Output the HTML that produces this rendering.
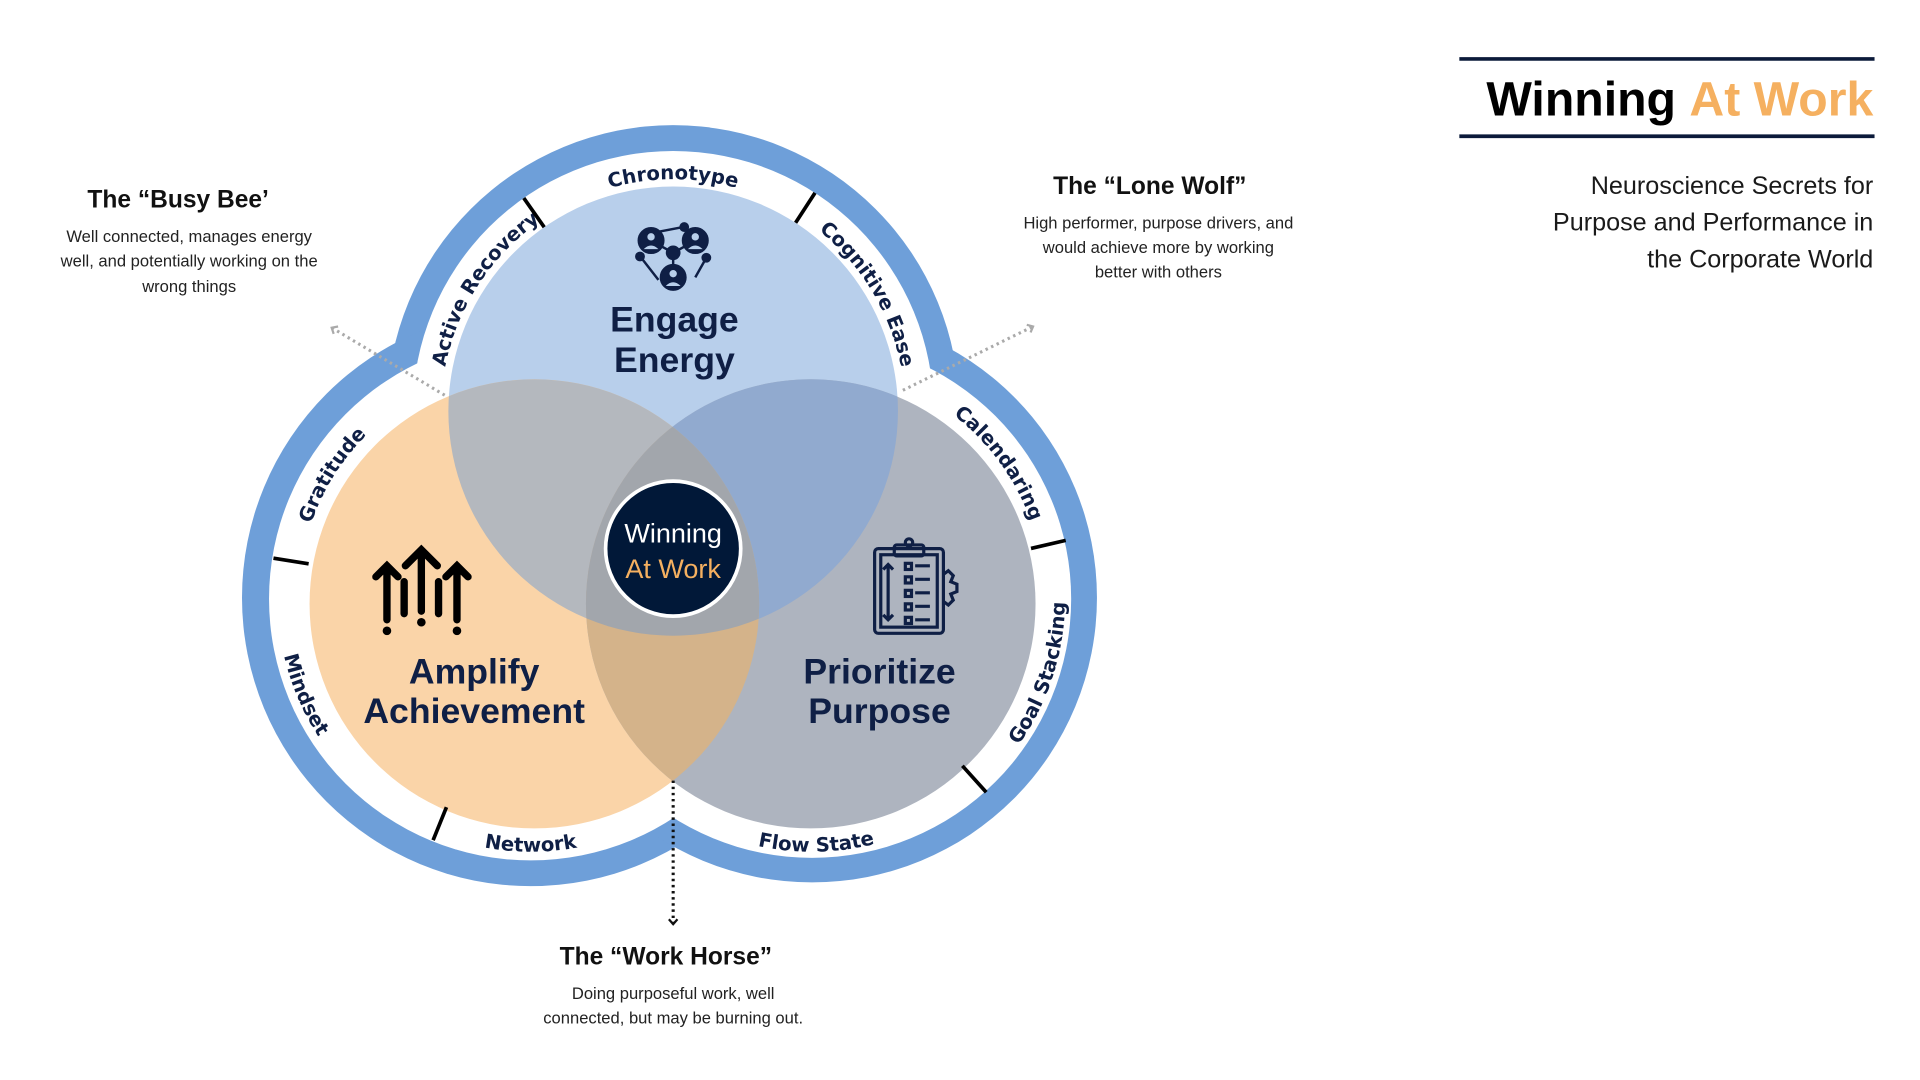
<!DOCTYPE html>
<html><head><meta charset="utf-8"><style>
html,body{margin:0;padding:0;background:#fff;overflow:hidden}
#w{width:1563px;height:880px;transform:scale(1.2284,1.2273);transform-origin:0 0;position:relative}
svg{position:absolute;left:0;top:0}
.t{font-family:"Liberation Sans",sans-serif;fill:#0f1f45;font-weight:bold}
.r{font-family:"DejaVu Sans",sans-serif;font-weight:bold;font-size:16px;fill:#0f1f45}
.h{font-family:"Liberation Sans",sans-serif;font-weight:bold;font-size:20px;fill:#111}
.b{font-family:"Liberation Sans",sans-serif;font-size:13.5px;fill:#222}
</style></head><body><div id="w">
<svg width="1563" height="880" viewBox="0 0 1563 880" id="s">
<defs>
<marker id="ag" markerUnits="userSpaceOnUse" markerWidth="10" markerHeight="10" refX="6" refY="5" orient="auto"><path d="M2,1.5 L6,5 L2,8.5" fill="none" stroke="#aaa" stroke-width="1.8"/></marker>
<marker id="ab" markerUnits="userSpaceOnUse" markerWidth="10" markerHeight="10" refX="6" refY="5" orient="auto"><path d="M2,1.5 L6,5 L2,8.5" fill="none" stroke="#111" stroke-width="1.8"/></marker>
<clipPath id="cT"><circle cx="548" cy="335" r="183"/></clipPath>
<clipPath id="cL"><circle cx="435" cy="492" r="183"/></clipPath>
<clipPath id="cR"><circle cx="660" cy="492" r="183"/></clipPath>
</defs>
<g fill="#6e9fd9"><circle cx="548" cy="335" r="233"/><circle cx="432" cy="487" r="235"/><circle cx="661" cy="487" r="232"/></g>
<g fill="#fff"><circle cx="548" cy="335" r="212"/><circle cx="432" cy="488" r="213"/><circle cx="661" cy="488" r="211"/></g>
<circle cx="548" cy="335" r="183" fill="#b8cfeb"/>
<circle cx="435" cy="492" r="183" fill="#fad4a8"/>
<circle cx="660" cy="492" r="183" fill="#aeb4bf"/>
<g clip-path="url(#cT)"><circle cx="435" cy="492" r="183" fill="#b4b8be"/><circle cx="660" cy="492" r="183" fill="#91aacf"/></g>
<g clip-path="url(#cL)"><circle cx="660" cy="492" r="183" fill="#d4b38a"/></g>
<g clip-path="url(#cT)"><g clip-path="url(#cL)"><circle cx="660" cy="492" r="183" fill="#a2a6ac"/></g></g>
<g id="lab"></g>
<circle cx="548" cy="447" r="55" fill="#011838" stroke="#fff" stroke-width="3"/>
<text x="548" y="442" text-anchor="middle" font-family="Liberation Sans" font-size="22" fill="#fff">Winning</text>
<text x="548" y="471" text-anchor="middle" font-family="Liberation Sans" font-size="22" fill="#f5b060">At Work</text>
<text class="t" x="549" y="270" text-anchor="middle" font-size="29">Engage</text>
<text class="t" x="549" y="303" text-anchor="middle" font-size="29">Energy</text>
<text class="t" x="386" y="557" text-anchor="middle" font-size="29">Amplify</text>
<text class="t" x="386" y="589" text-anchor="middle" font-size="29">Achievement</text>
<text class="t" x="716" y="557" text-anchor="middle" font-size="29">Prioritize</text>
<text class="t" x="716" y="589" text-anchor="middle" font-size="29">Purpose</text>
<g stroke="#000" stroke-width="6" stroke-linecap="round" fill="none">
<path d="M343,498 V448 M330,461 L343,448 L356,461"/>
<path d="M315,505 V461 M306,470 L315,461 L324,470"/>
<path d="M372,505 V461 M363,470 L372,461 L381,470"/>
<path d="M329,474 V500 M357,474 V500"/>
</g>
<g fill="#000"><circle cx="315" cy="514" r="3.5"/><circle cx="372" cy="514" r="3.5"/><circle cx="343" cy="507" r="3.5"/></g>
<g stroke="#0f1f45" stroke-width="2.6" fill="none">
<rect x="712" y="447" width="56" height="69" rx="3"/><rect x="717" y="452" width="46" height="59"/>
<rect x="728" y="444" width="24" height="9" rx="2"/><circle cx="740" cy="442" r="3"/>
<path d="M723,460 V505 M719,464 L723,460 L727,464 M719,501 L723,505 L727,501"/>
<rect x="737" y="459" width="5" height="5"/><rect x="737" y="470" width="5" height="5"/><rect x="737" y="481" width="5" height="5"/><rect x="737" y="492" width="5" height="5"/><rect x="737" y="503" width="5" height="5"/>
<path d="M745,461 H757 M745,472 H757 M745,483 H757 M745,494 H757 M745,505 H757"/>
<path d="M768,468 l4,-3 l4,4 l-2,5 l5,2 l0,6 l-5,2 l2,5 l-4,4 l-4,-3"/>
</g>
<g fill="#0f1f45" stroke="#0f1f45" stroke-width="2">
<path d="M530,196 L548,206 L566,196 M548,206 V220 M522,210 L536,228 M575,210 L566,226 M530,190 L556,185" fill="none"/>
<circle cx="530" cy="196" r="10"/><circle cx="566" cy="196" r="10"/><circle cx="548" cy="226" r="10"/><circle cx="548" cy="206" r="5"/>
<circle cx="521" cy="209" r="3"/><circle cx="557" cy="185" r="3"/><circle cx="575" cy="210" r="3"/>
</g>
<g fill="#b8cfeb"><circle cx="530" cy="193" r="3"/><circle cx="566" cy="193" r="3"/><circle cx="548" cy="223" r="3"/><path d="M524,203 q6,-6 12,0 z M560,203 q6,-6 12,0 z M542,233 q6,-6 12,0 z"/></g>
<line x1="362" y1="322" x2="270" y2="267" stroke="#aaa" stroke-width="2.5" stroke-dasharray="2,3" marker-end="url(#ag)"/>
<line x1="735" y1="318" x2="841" y2="266" stroke="#aaa" stroke-width="2.5" stroke-dasharray="2,3" marker-end="url(#ag)"/>
<line x1="548" y1="636" x2="548" y2="753" stroke="#111" stroke-width="2.5" stroke-dasharray="2,3" marker-end="url(#ab)"/>
<text class="h" x="145" y="169" text-anchor="middle">The “Busy Bee’</text>
<text class="b" x="154" y="197" text-anchor="middle">Well connected, manages energy</text>
<text class="b" x="154" y="217" text-anchor="middle">well, and potentially working on the</text>
<text class="b" x="154" y="238" text-anchor="middle">wrong things</text>
<text class="h" x="936" y="158" text-anchor="middle">The “Lone Wolf”</text>
<text class="b" x="943" y="186" text-anchor="middle">High performer, purpose drivers, and</text>
<text class="b" x="943" y="206" text-anchor="middle">would achieve more by working</text>
<text class="b" x="943" y="226" text-anchor="middle">better with others</text>
<text class="h" x="542" y="786" text-anchor="middle">The “Work Horse”</text>
<text class="b" x="548" y="814" text-anchor="middle">Doing purposeful work, well</text>
<text class="b" x="548" y="834" text-anchor="middle">connected, but may be burning out.</text>
<line x1="1188" y1="48" x2="1526" y2="48" stroke="#0b1a3a" stroke-width="3"/>
<line x1="1188" y1="111" x2="1526" y2="111" stroke="#0b1a3a" stroke-width="3"/>
<text x="1525" y="94" text-anchor="end" font-family="Liberation Sans" font-weight="bold" font-size="39" fill="#000" textLength="315" lengthAdjust="spacingAndGlyphs">Winning <tspan fill="#f5b060">At Work</tspan></text>
<g font-family="Liberation Sans" font-size="20.5" fill="#1a1a1a" text-anchor="end">
<text x="1525" y="158">Neuroscience Secrets for</text>
<text x="1525" y="188">Purpose and Performance in</text>
<text x="1525" y="218">the Corporate World</text></g>
</svg>
<script>
var g=document.getElementById('lab'),NS='http://www.w3.org/2000/svg',n=0;
function P(cx,cy,r,a){a=a*Math.PI/180;return [cx+r*Math.cos(a),cy+r*Math.sin(a)];}
function lab(cx,cy,a,txt,cw){
  var sp=60,r=cw?189:206,s=P(cx,cy,r,cw?a-sp:a+sp),e=P(cx,cy,r,cw?a+sp:a-sp);
  var p=document.createElementNS(NS,'path'),id='p'+(n++);
  p.setAttribute('id',id);p.setAttribute('fill','none');
  p.setAttribute('d','M'+s[0]+','+s[1]+' A'+r+','+r+' 0 0 '+(cw?1:0)+' '+e[0]+','+e[1]);
  g.appendChild(p);
  var t=document.createElementNS(NS,'text');t.setAttribute('class','r');
  var tp=document.createElementNS(NS,'textPath');tp.setAttribute('href','#'+id);
  tp.setAttribute('startOffset','50%');tp.setAttribute('text-anchor','middle');tp.textContent=txt;
  t.appendChild(tp);g.appendChild(t);
}
function div(cx,cy,a){var s=P(cx,cy,183,a),e=P(cx,cy,212,a);var l=document.createElementNS(NS,'line');
 l.setAttribute('x1',s[0]);l.setAttribute('y1',s[1]);l.setAttribute('x2',e[0]);l.setAttribute('y2',e[1]);
 l.setAttribute('stroke','#000');l.setAttribute('stroke-width','3');g.appendChild(l);}
lab(548,335,-90,'Chronotype',1);lab(548,335,-147,'Active Recovery',1);lab(548,335,-31,'Cognitive Ease',1);
div(548,335,-125);div(548,335,-57);
lab(432,488,-148,'Gratitude',1);lab(432,488,157,'Mindset',0);lab(432,488,90,'Network',0);
div(432,488,189);div(432,488,112);
lab(661,488,-36,'Calendaring',1);lab(661,488,18,'Goal Stacking',0);lab(661,488,89,'Flow State',0);
div(661,488,-13);div(661,488,48);
</script>
</div></body></html>
